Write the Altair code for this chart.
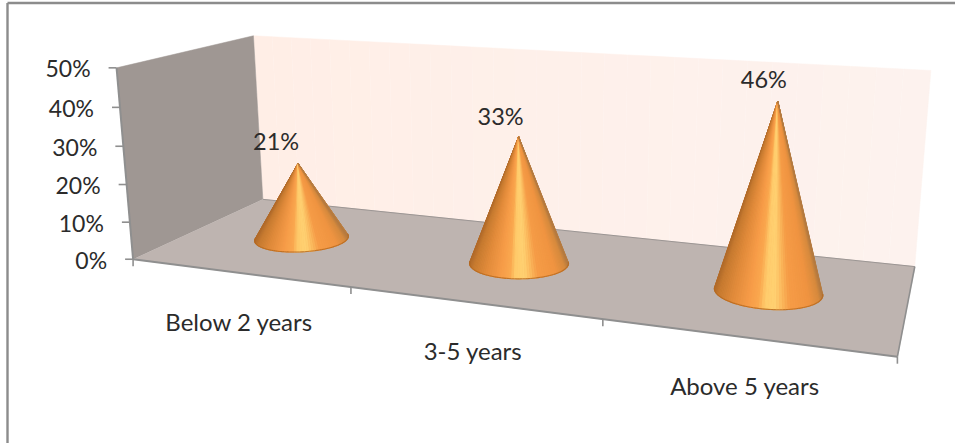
import altair as alt
import numpy as np
import pandas as pd

# Chart values
categories = ["Below 2 years", "3-5 years", "Above 5 years"]
shares = [21, 33, 46]
value_ticks = [0, 10, 20, 30, 40, 50]

W, H = 955, 443
FONT = "Lato"
TEXT = "#2b2b2b"
AXIS = "#8f8f8f"

# World frame: u runs along the categories (0-3), d into the depth (0-1), z is the percentage.
# The perspective camera is solved from where the box corners fall on the page.
world_corners = [(0, 0, 0), (3, 0, 0), (0, 1, 0), (3, 1, 0), (0, 0, 50), (0, 1, 50), (3, 1, 50)]
page_corners = [(133, 259), (897, 358), (263, 200), (915, 265), (117, 67), (253, 36), (931, 71)]


def solve_camera(world, page):
    rows, rhs = [], []
    for (u, d, z), (px, py) in zip(world, page):
        rows.append([u, d, z, 1, 0, 0, 0, 0, -px * u, -px * d, -px * z])
        rhs.append(px)
        rows.append([0, 0, 0, 0, u, d, z, 1, -py * u, -py * d, -py * z])
        rhs.append(py)
    sol = np.linalg.lstsq(np.array(rows, float), np.array(rhs, float), rcond=None)[0]
    return np.append(sol, 1.0).reshape(3, 4)


CAMERA = solve_camera(world_corners, page_corners)


def project(u, d, z):
    a, b, c = CAMERA @ np.array([u, d, z, 1.0])
    return float(a / c), float(b / c)


def mix(c1, c2, t):
    a = np.array([int(c1[i:i + 2], 16) for i in (1, 3, 5)], float)
    b = np.array([int(c2[i:i + 2], 16) for i in (1, 3, 5)], float)
    return "#%02x%02x%02x" % tuple(int(round(v)) for v in a + (b - a) * t)


# Horizontal shading across a cone, from the left rim to the right rim
shade_pos = [0.0, 0.04, 0.16, 0.32, 0.41, 0.47, 0.56, 0.63, 0.70, 0.88, 0.97, 1.0]
shade_col = ["#b06a2a", "#c67a30", "#e08a3a", "#f79c48", "#faa84f", "#ffcc6c",
             "#ffd172", "#fbb85c", "#f69c47", "#f09441", "#d68a3d", "#b47a40"]


def shade(t):
    t = min(max(t, 0.0), 1.0)
    for i in range(len(shade_pos) - 1):
        if t <= shade_pos[i + 1]:
            return mix(shade_col[i], shade_col[i + 1],
                       (t - shade_pos[i]) / (shade_pos[i + 1] - shade_pos[i]))
    return shade_col[-1]


polys = []


def add_poly(name, pts, color):
    for seq, (x, y) in enumerate(pts):
        polys.append({"poly": name, "seq": seq, "px": x, "py": y, "c": color})


# Box walls
for i in range(30):
    u0, u1 = 3 * i / 30, 3 * (i + 1) / 30
    add_poly(f"back{i}",
             [project(u0, 1, 0), project(u1, 1, 0), project(u1, 1, 50), project(u0, 1, 50)],
             mix("#ffeee6", "#fdf2ee", i / 29))
add_poly("side", [project(0, 0, 0), project(0, 1, 0), project(0, 1, 50), project(0, 0, 50)], "#9f9793")
add_poly("floor", [project(0, 0, 0), project(3, 0, 0), project(3, 1, 0), project(0, 1, 0)], "#beb4b0")
walls = pd.DataFrame(polys)

# Cones: an opaque silhouette underneath, then a fan of shaded facets from the apex
# down to the visible part of the base circle
polys = []
back_rows = []
rim_rows = []
RU, RD = 0.2, 0.2
N = 120
for i, v in enumerate(shares):
    cu, cd = i + 0.5, 0.5
    tip = project(cu, cd, v)
    # the ring starts at the rear of the base so its visible part stays contiguous
    ring = [project(cu + RU * np.cos(np.pi / 2 + 2 * np.pi * k / N),
                    cd + RD * np.sin(np.pi / 2 + 2 * np.pi * k / N), 0)
            for k in range(N + 1)]
    xs = [p[0] for p in ring] + [tip[0]]
    lo, hi = min(xs), max(xs)
    outline = [tip]
    for k in range(N):
        p, q = ring[k], ring[k + 1]
        cross = (p[0] - tip[0]) * (q[1] - tip[1]) - (p[1] - tip[1]) * (q[0] - tip[0])
        if cross > 0:
            continue
        t = ((p[0] + q[0]) / 2 - lo) / (hi - lo)
        add_poly(f"cone{i}_{k:03d}", [tip, p, q], shade(t))
        outline.extend([p, q])
        rim_rows.append({"cone": i, "seq": k, "px": p[0], "py": p[1], "px2": q[0], "py2": q[1]})
    for seq, (x, y) in enumerate(outline):
        back_rows.append({"poly": f"base{i}", "seq": seq, "px": x, "py": y, "c": "#ee9642"})
cones = pd.DataFrame(polys)
backing = pd.DataFrame(back_rows)
rims = pd.DataFrame(rim_rows)

x_enc = alt.X("px:Q", scale=alt.Scale(domain=[0, W], range=[0, W], nice=False, zero=False), axis=None)
y_enc = alt.Y("py:Q", scale=alt.Scale(domain=[0, H], range=[0, H], nice=False, zero=False), axis=None)


def facets(df, width):
    return alt.Chart(df).mark_line(
        strokeWidth=width, interpolate="linear", opacity=1, fillOpacity=1, strokeOpacity=1
    ).encode(
        x=x_enc, y=y_enc,
        detail="poly:N",
        order="seq:Q",
        fill=alt.Fill("c:N", scale=None),
        stroke=alt.Stroke("c:N", scale=None),
    )


def segments(pairs, width, color=AXIS):
    rows = [{"px": a[0], "py": a[1], "px2": b[0], "py2": b[1]} for a, b in pairs]
    return alt.Chart(pd.DataFrame(rows)).mark_rule(strokeWidth=width, color=color).encode(
        x=x_enc, y=y_enc, x2="px2:Q", y2="py2:Q")


# Box edges and axis ticks
edges = segments([(project(0, 0, 0), project(0, 0, 50)),
                  (project(0, 0, 0), project(3, 0, 0))], 2)
side_edges = segments([(project(3, 0, 0), project(3, 1, 0))], 1.6)
back_edge = segments([(project(0, 1, 0), project(3, 1, 0))], 1, "#9c9694")
y_ticks = segments([(project(0, 0, t), (project(0, 0, t)[0] - 8, project(0, 0, t)[1]))
                    for t in value_ticks], 1.6)
x_ticks = segments([(project(u, 0, 0), (project(u, 0, 0)[0], project(u, 0, 0)[1] + 7))
                    for u in range(4)], 1.6)

rim_line = alt.Chart(rims).mark_rule(strokeWidth=1.1, color="#b5691f", opacity=0.85).encode(
    x=x_enc, y=y_enc, x2="px2:Q", y2="py2:Q")


def text_layer(rows, size, **kw):
    return alt.Chart(pd.DataFrame(rows)).mark_text(
        font=FONT, fontSize=size, color=TEXT, baseline="middle", **kw
    ).encode(x=x_enc, y=y_enc, text="label:N")


y_labels = text_layer(
    [{"px": project(0, 0, t)[0] - 26, "py": project(0, 0, t)[1] + 2.5, "label": f"{t}%"} for t in value_ticks],
    23, align="right")
x_labels = text_layer(
    [{"px": project(i + 0.5, 0, 0)[0] + 0.5, "py": project(i + 0.5, 0, 0)[1] + 51, "label": c}
     for i, c in enumerate(categories)],
    24, align="center")

# Data labels sit up and to the left of each apex
label_shift = [(-22, -20), (-18, -19), (-14, -20)]
value_labels = text_layer(
    [{"px": project(i + 0.5, 0.5, v)[0] + label_shift[i][0],
      "py": project(i + 0.5, 0.5, v)[1] + label_shift[i][1], "label": f"{v}%"}
     for i, v in enumerate(shares)],
    23.5, align="center")

# Outer frame: only the top and left edges fall inside the page
frame_left = alt.Chart(pd.DataFrame({"a": [0]})).mark_rule(color="#8c8c8c", strokeWidth=2.4).encode(
    x=alt.value(7.5), y=alt.value(3), y2=alt.value(H))
frame_top = alt.Chart(pd.DataFrame({"a": [0]})).mark_rule(color="#8c8c8c", strokeWidth=2.4).encode(
    x=alt.value(7.5), x2=alt.value(W), y=alt.value(3))

chart = alt.layer(
    facets(walls, 0.5), back_edge, side_edges, edges, y_ticks, x_ticks,
    facets(backing, 0.6), facets(cones, 1.0), rim_line,
    y_labels, x_labels, value_labels, frame_left, frame_top,
).properties(
    width=W, height=H, padding=0, background="white",
    autosize=alt.AutoSizeParams(type="none"),
).configure_view(stroke=None)

chart.save("out.html", embed_options={"renderer": "svg", "actions": False})
